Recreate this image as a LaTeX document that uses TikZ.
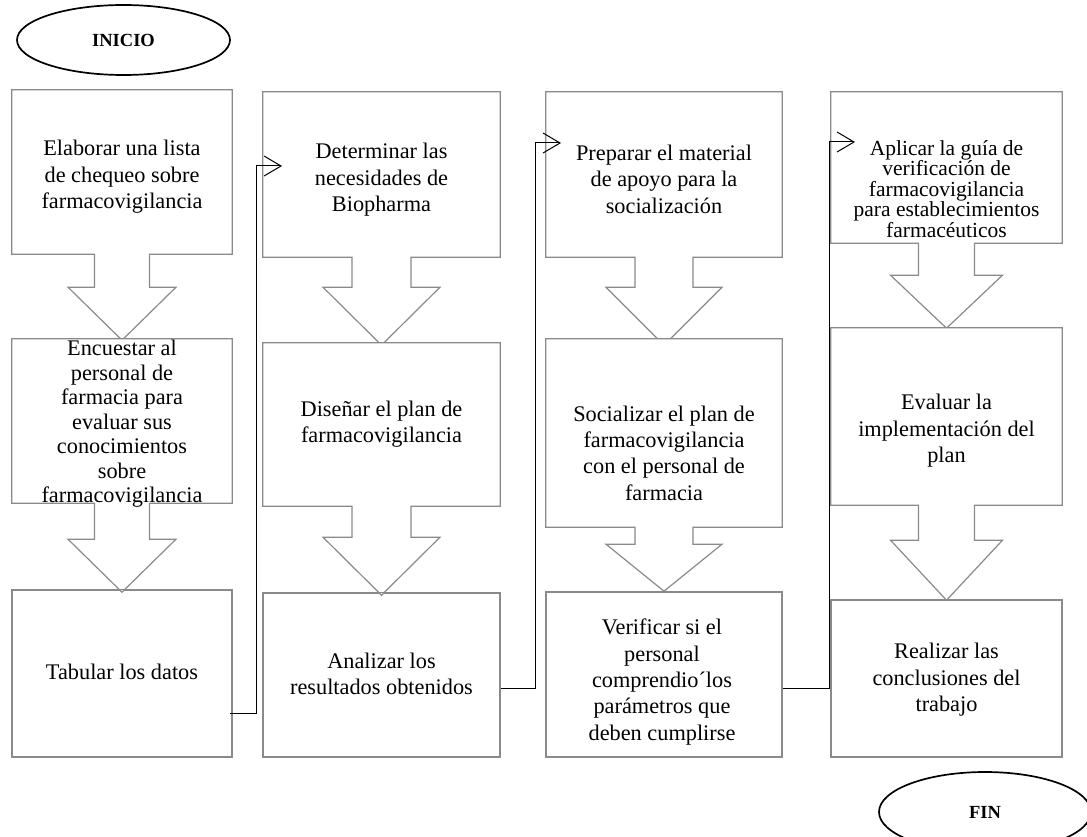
\documentclass[tikz,border=0pt]{standalone}
\usepackage{fontspec}
\setmainfont{Liberation Serif}
\usetikzlibrary{arrows.meta,calc,shapes.geometric}

\definecolor{boxgray}{HTML}{8A8A8A}

% box with a hollow down arrow hanging from its bottom edge
% #1 box node, #2 shaft half width, #3 shaft length, #4 head half width, #5 head length
\newcommand\downcallout[5]{%
  \draw[outline]
    (#1.south west) -- (#1.north west) -- (#1.north east) -- (#1.south east)
    -- ($(#1.south)+(#2,0)$) -- ($(#1.south)+(#2,#3)$)
    -- ($(#1.south)+(#4,#3)$) -- ($(#1.south)+(0,#3+#5)$)
    -- ($(#1.south)+(-#4,#3)$) -- ($(#1.south)+(-#2,#3)$)
    -- ($(#1.south)+(-#2,0)$) -- cycle;}

\begin{document}
\begin{tikzpicture}[x=1pt,y=-1pt,
  outline/.style={draw=boxgray, line width=1.2pt, fill=white, line join=miter},
  stepbox/.style={rectangle, inner sep=0pt},
  plainbox/.style={stepbox, draw=boxgray, line width=1.2pt, fill=white},
  txt/.style={align=center, inner sep=0pt, font=\fontsize{22.3}{26.4}\selectfont},
  tight/.style={font=\fontsize{22.3}{24.5}\selectfont},
  terminal/.style={ellipse, draw=black, line width=1.7pt, inner sep=0pt,
    font=\fontsize{18.5}{20}\selectfont\bfseries},
  link/.style={draw=black, line width=1pt, line join=miter,
    -{Straight Barb[length=17pt,width=20pt,line width=1pt]}}]
\useasboundingbox (0,0) rectangle (1087,837);

% terminals
\node[terminal, minimum width=213pt, minimum height=70pt] (inicio) at (123.5,40) {INICIO};
\node[terminal, minimum width=212pt, minimum height=80pt] (fin) at (985,812) {FIN};

% column 1
\node[stepbox, minimum width=220pt, minimum height=164pt] (b11) at (122,172) {};
\node[stepbox, minimum width=220pt, minimum height=164pt] (b12) at (122,421) {};
\node[plainbox, minimum width=220pt, minimum height=167pt] (b13) at (122,673.5) {};
% column 2
\node[stepbox, minimum width=237pt, minimum height=165pt] (b21) at (381.5,174.5) {};
\node[stepbox, minimum width=237pt, minimum height=163pt] (b22) at (381.5,424.5) {};
\node[plainbox, minimum width=237pt, minimum height=164pt] (b23) at (381.5,675) {};
% column 3
\node[stepbox, minimum width=236pt, minimum height=165pt] (b31) at (664,174.5) {};
\node[stepbox, minimum width=236pt, minimum height=188pt] (b32) at (664,433) {};
\node[plainbox, minimum width=236pt, minimum height=165pt] (b33) at (664,674.5) {};
% column 4
\node[stepbox, minimum width=231pt, minimum height=151pt] (b41) at (946.5,167.5) {};
\node[stepbox, minimum width=231pt, minimum height=177pt] (b42) at (946.5,416.5) {};
\node[plainbox, minimum width=231pt, minimum height=157pt] (b43) at (946.5,678.5) {};

% arrows between the boxes of each column
\downcallout{b11}{27.5}{33}{54}{53}
\downcallout{b12}{27.5}{36}{54}{53}
\downcallout{b21}{29.5}{30}{58.5}{58}
\downcallout{b22}{29.5}{31}{58.5}{58}
\downcallout{b31}{29}{30}{58}{58}
\downcallout{b32}{29}{17}{58}{47}
\downcallout{b41}{28}{32}{56}{53}
\downcallout{b42}{28}{35}{56}{60}
% redraw the lower boxes' top edges over the arrow tips
\draw[boxgray, line width=1.2pt] (b12.north west) -- (b12.north east);
\draw[boxgray, line width=1.2pt] (b13.north west) -- (b13.north east);
\draw[boxgray, line width=1.2pt] (b22.north west) -- (b22.north east);
\draw[boxgray, line width=1.2pt] (b23.north west) -- (b23.north east);
\draw[boxgray, line width=1.2pt] (b32.north west) -- (b32.north east);
\draw[boxgray, line width=1.2pt] (b33.north west) -- (b33.north east);
\draw[boxgray, line width=1.2pt] (b42.north west) -- (b42.north east);
\draw[boxgray, line width=1.2pt] (b43.north west) -- (b43.north east);

% texts
\node[txt] (t11) at (122,177) {Elaborar una lista\\de chequeo sobre\\farmacovigilancia};
\node[txt, tight] (t12) at (122,424) {Encuestar al\\personal de\\farmacia para\\evaluar sus\\conocimientos\\sobre\\farmacovigilancia};
\node[txt] (t13) at (122,672) {Tabular los datos};
\node[txt] (t21) at (381.5,180) {Determinar las\\necesidades de\\Biopharma};
\node[txt] (t22) at (381.5,424) {Diseñar el plan de\\farmacovigilancia};
\node[txt] (t23) at (381.5,674) {Analizar los\\resultados obtenidos};
\node[txt] (t31) at (664,179) {Preparar el material\\de apoyo para la\\socialización};
\node[txt] (t32) at (664,453) {Socializar el plan de\\farmacovigilancia\\con el personal de\\farmacia};
\node[txt] (t33) at (662,682) {Verificar si el\\personal\\comprendio´los\\parámetros que\\deben cumplirse};
\node[txt, font=\fontsize{21.5}{20.5}\selectfont] (t41) at (946.5,189) {Aplicar la guía de\\verificación de\\farmacovigilancia\\para establecimientos\\farmacéuticos};
\node[txt] (t42) at (946.5,431) {Evaluar la\\implementación del\\plan};
\node[txt] (t43) at (946.5,680) {Realizar las\\conclusiones del\\trabajo};

% links from the bottom of one column to the top of the next
\draw[link] ($(b13.east)+(-3,39.5)$) -| (256,166) -- (282,166);
\draw[link] ($(b23.east)+(0,13)$) -| (535,143) -- (561,143);
\draw[link] ($(b33.east)+(0,13.5)$) -| (829,142) -- (855,142);
\end{tikzpicture}
\end{document}
